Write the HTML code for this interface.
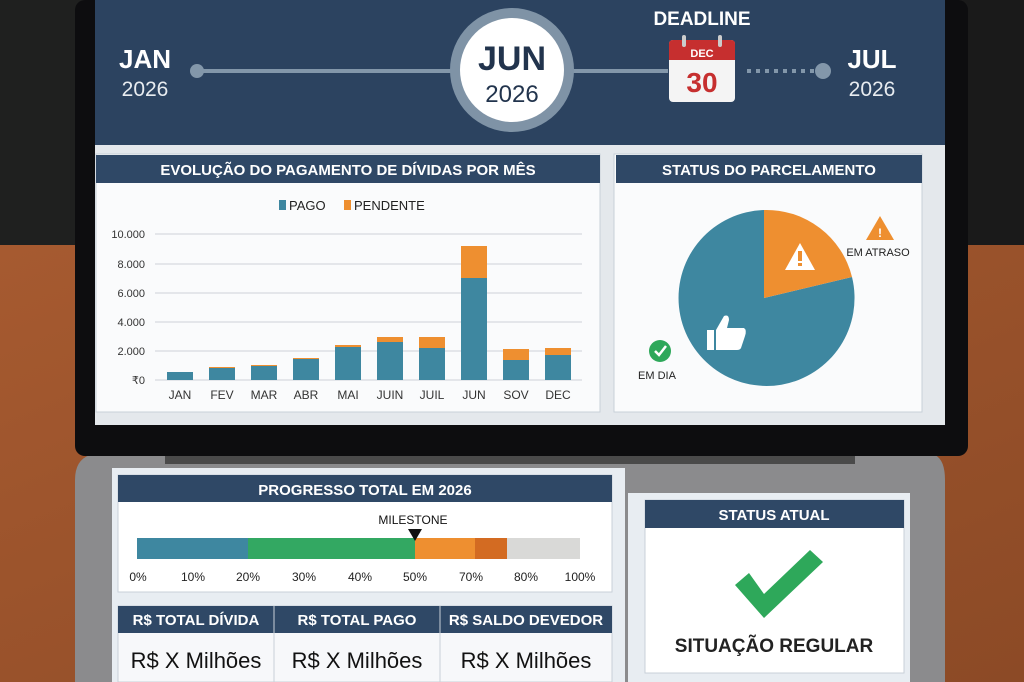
<!DOCTYPE html>
<html><head><meta charset="utf-8"><style>
html,body{margin:0;padding:0;width:1024px;height:682px;overflow:hidden;background:#1e1f1e}
svg{display:block}
text{font-family:"Liberation Sans",sans-serif}
</style></head><body>
<svg width="1024" height="682" viewBox="0 0 1024 682">
<defs>
<linearGradient id="leather" x1="0" y1="0" x2="1" y2="1"><stop offset="0" stop-color="#a65a30"/><stop offset="1" stop-color="#8c4a26"/></linearGradient>
</defs>
<rect width="1024" height="682" fill="#1f201f"/>
<rect x="0" y="245" width="1024" height="437" fill="url(#leather)"/>
<rect x="945" y="0" width="79" height="245" fill="#1a1a1a"/>
<path d="M90 455 H935 Q945 460 945 480 V682 H75 V480 Q75 460 90 455Z" fill="#8b8b8d"/>
<rect x="165" y="455" width="690" height="9" fill="#4a4a4a"/>
<rect x="75" y="0" width="893" height="456" rx="10" fill="#0d0d0f"/>
<rect x="95" y="0" width="850" height="425" fill="#e4e8ec"/>
<rect x="95" y="0" width="850" height="145" fill="#2c4360"/>
<text x="145" y="68" font-size="26" font-weight="bold" fill="#fff" text-anchor="middle">JAN</text>
<text x="145" y="96" font-size="21" fill="#e8ecf0" text-anchor="middle">2026</text>
<line x1="197" y1="71" x2="455" y2="71" stroke="#8397aa" stroke-width="4"/>
<circle cx="197" cy="71" r="7" fill="#8397aa"/>
<line x1="570" y1="71" x2="668" y2="71" stroke="#8397aa" stroke-width="4"/>
<line x1="747" y1="71" x2="815" y2="71" stroke="#8397aa" stroke-width="4" stroke-dasharray="4 5"/>
<circle cx="823" cy="71" r="8" fill="#8397aa"/>
<circle cx="512" cy="70" r="62" fill="#7f93a6"/>
<circle cx="512" cy="70" r="52" fill="#fff"/>
<text x="512" y="70" font-size="34" font-weight="bold" fill="#22344d" text-anchor="middle">JUN</text>
<text x="512" y="102" font-size="24" fill="#22344d" text-anchor="middle">2026</text>
<text x="702" y="25" font-size="19" font-weight="bold" fill="#fff" text-anchor="middle">DEADLINE</text>
<rect x="669" y="40" width="66" height="62" rx="4" fill="#f4f4f4"/>
<path d="M669 60 V44 Q669 40 673 40 H731 Q735 40 735 44 V60Z" fill="#c62f2f"/>
<rect x="682" y="35" width="4" height="12" rx="2" fill="#ccc"/><rect x="718" y="35" width="4" height="12" rx="2" fill="#ccc"/>
<text x="702" y="57" font-size="11" font-weight="bold" fill="#fff" text-anchor="middle">DEC</text>
<text x="702" y="92" font-size="28" font-weight="bold" fill="#c62f2f" text-anchor="middle">30</text>
<text x="872" y="68" font-size="26" font-weight="bold" fill="#fff" text-anchor="middle">JUL</text>
<text x="872" y="96" font-size="21" fill="#e8ecf0" text-anchor="middle">2026</text>
<rect x="96" y="154" width="504" height="258" fill="#fafbfc" stroke="#c8d0d8"/>
<rect x="96" y="155" width="504" height="28" fill="#2f4866"/>
<text x="348" y="175" font-size="15" font-weight="bold" fill="#fff" text-anchor="middle">EVOLUÇÃO DO PAGAMENTO DE DÍVIDAS POR MÊS</text>
<rect x="279" y="200" width="7" height="10" fill="#3e87a0"/><text x="289" y="210" font-size="13" fill="#222">PAGO</text>
<rect x="344" y="200" width="7" height="10" fill="#ee8f30"/><text x="354" y="210" font-size="13" fill="#222">PENDENTE</text>
<g stroke="#dcdfe3" stroke-width="1.5">
<line x1="155" y1="234" x2="582" y2="234"/><line x1="155" y1="264" x2="582" y2="264"/><line x1="155" y1="293" x2="582" y2="293"/><line x1="155" y1="322" x2="582" y2="322"/><line x1="155" y1="351" x2="582" y2="351"/><line x1="155" y1="380" x2="582" y2="380"/>
</g>
<g font-size="11" fill="#333" text-anchor="end">
<text x="145" y="238">10.000</text><text x="145" y="268">8.000</text><text x="145" y="297">6.000</text><text x="145" y="326">4.000</text><text x="145" y="355">2.000</text><text x="145" y="384">₹0</text>
</g>
<g fill="#3e87a0">
<rect x="167" y="372" width="26" height="8"/><rect x="209" y="368" width="26" height="12"/><rect x="251" y="366" width="26" height="14"/><rect x="293" y="359" width="26" height="21"/><rect x="335" y="347" width="26" height="33"/><rect x="377" y="342" width="26" height="38"/><rect x="419" y="348" width="26" height="32"/><rect x="461" y="278" width="26" height="102"/><rect x="503" y="360" width="26" height="20"/><rect x="545" y="355" width="26" height="25"/>
</g>
<g fill="#ee8f30">
<rect x="209" y="367" width="26" height="1"/><rect x="251" y="365" width="26" height="1"/><rect x="293" y="358" width="26" height="1"/><rect x="335" y="345" width="26" height="2"/><rect x="377" y="337" width="26" height="5"/><rect x="419" y="337" width="26" height="11"/><rect x="461" y="246" width="26" height="32"/><rect x="503" y="349" width="26" height="11"/><rect x="545" y="348" width="26" height="7"/>
</g>
<g font-size="12" fill="#333" text-anchor="middle">
<text x="180" y="399">JAN</text><text x="222" y="399">FEV</text><text x="264" y="399">MAR</text><text x="306" y="399">ABR</text><text x="348" y="399">MAI</text><text x="390" y="399">JUIN</text><text x="432" y="399">JUIL</text><text x="474" y="399">JUN</text><text x="516" y="399">SOV</text><text x="558" y="399">DEC</text>
</g>
<rect x="614" y="154" width="308" height="258" fill="#fafbfc" stroke="#c8d0d8"/>
<rect x="616" y="155" width="306" height="28" fill="#2f4866"/>
<text x="769" y="175" font-size="15" font-weight="bold" fill="#fff" text-anchor="middle">STATUS DO PARCELAMENTO</text>
<path d="M764 298 L852 277 A88 88 0 1 1 764 210 Z" fill="#3e87a0"/>
<path d="M764 298 L764 210 A88 88 0 0 1 852 277 Z" fill="#ee8f30"/>
<path d="M800 243 L785 270 H815Z" fill="#fff"/><rect x="798" y="251" width="4" height="10" fill="#ee8f30"/><rect x="798" y="263" width="4" height="3" fill="#ee8f30"/>
<path d="M880 216 L866 240 H894Z" fill="#ee8f30"/><text x="880" y="237" font-size="12" font-weight="bold" fill="#fff" text-anchor="middle">!</text>
<text x="878" y="256" font-size="11" fill="#222" text-anchor="middle">EM ATRASO</text>
<rect x="707" y="330" width="7" height="20" fill="#fff"/><path d="M716 330 L724 316 Q729 314 729 320 L727 328 H744 Q747 330 745 336 L741 348 Q740 350 737 350 H716Z" fill="#fff"/>
<circle cx="660" cy="351" r="11" fill="#2ea85a"/><path d="M655 351 L659 355 L666 346" stroke="#fff" stroke-width="2.5" fill="none"/>
<text x="657" y="379" font-size="11" fill="#222" text-anchor="middle">EM DIA</text>
<rect x="112" y="468" width="513" height="214" fill="#e8edf2"/>
<rect x="118" y="475" width="494" height="117" fill="#fff" stroke="#c8d0d8"/>
<rect x="118" y="475" width="494" height="27" fill="#2f4866"/>
<text x="365" y="495" font-size="15" font-weight="bold" fill="#fff" text-anchor="middle">PROGRESSO TOTAL EM 2026</text>
<rect x="137" y="538" width="111" height="21" fill="#3e87a0"/>
<rect x="248" y="538" width="167" height="21" fill="#33a862"/>
<rect x="415" y="538" width="60" height="21" fill="#ee8f30"/>
<rect x="475" y="538" width="32" height="21" fill="#d36b22"/>
<rect x="507" y="538" width="73" height="21" fill="#d9d9d7"/>
<text x="413" y="524" font-size="12" fill="#111" text-anchor="middle">MILESTONE</text>
<path d="M408 529 H422 L415 541Z" fill="#111"/>
<g font-size="12" fill="#222" text-anchor="middle">
<text x="138" y="581">0%</text><text x="193" y="581">10%</text><text x="248" y="581">20%</text><text x="304" y="581">30%</text><text x="360" y="581">40%</text><text x="415" y="581">50%</text><text x="471" y="581">70%</text><text x="526" y="581">80%</text><text x="580" y="581">100%</text>
</g>
<rect x="118" y="606" width="494" height="76" fill="#f7f8fa" stroke="#c8d0d8"/>
<rect x="118" y="606" width="494" height="27" fill="#2f4866"/>
<line x1="274" y1="606" x2="274" y2="682" stroke="#c8d0d8"/><line x1="440" y1="606" x2="440" y2="682" stroke="#c8d0d8"/>
<g font-size="15" font-weight="bold" fill="#fff" text-anchor="middle">
<text x="196" y="625">R$ TOTAL DÍVIDA</text><text x="357" y="625">R$ TOTAL PAGO</text><text x="526" y="625">R$ SALDO DEVEDOR</text>
</g>
<g font-size="22" fill="#111" text-anchor="middle">
<text x="196" y="668">R$ X Milhões</text><text x="357" y="668">R$ X Milhões</text><text x="526" y="668">R$ X Milhões</text>
</g>
<rect x="628" y="493" width="282" height="189" fill="#e8edf2"/>
<rect x="645" y="500" width="259" height="173" fill="#fff" stroke="#c8d0d8"/>
<rect x="645" y="500" width="259" height="28" fill="#2f4866"/>
<text x="774" y="520" font-size="15" font-weight="bold" fill="#fff" text-anchor="middle">STATUS ATUAL</text>
<path d="M735 585 L749 573 L764 594 L810 550 L823 562 L764 618Z" fill="#2ea85a"/>
<text x="774" y="652" font-size="19" font-weight="bold" fill="#222" text-anchor="middle">SITUAÇÃO REGULAR</text>
</svg>
</body></html>
